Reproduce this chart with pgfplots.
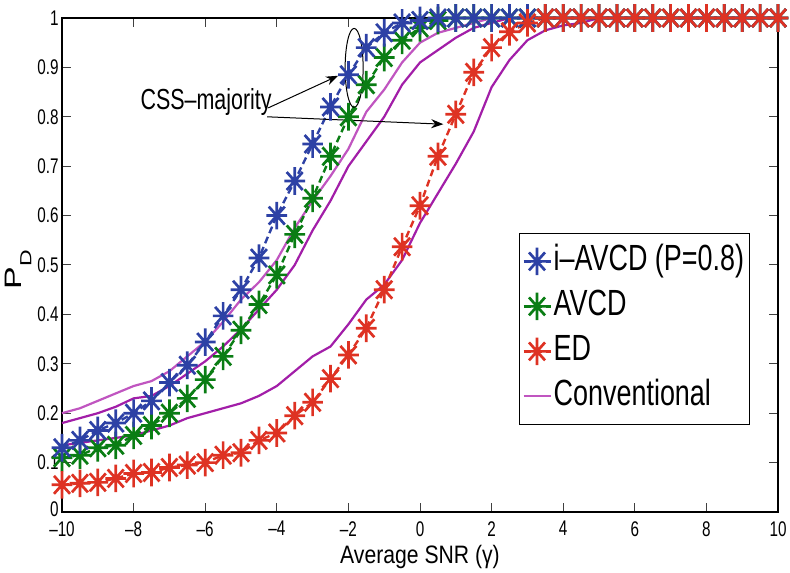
\documentclass[border=0pt]{standalone}
\usepackage{fontspec}
\setmainfont{Liberation Sans}
\newfontfamily\tickfont{Liberation Sans}[FakeStretch=0.72]
\newfontfamily\legfont{Liberation Sans}[FakeStretch=0.74]
\newfontfamily\labfont{Liberation Sans}[FakeStretch=0.84]
\usepackage{graphicx}
\usepackage{pgfplots}
\pgfplotsset{compat=1.18}
\usetikzlibrary{arrows.meta}

\definecolor{cblue}{RGB}{45,65,165}
\definecolor{cgreen}{RGB}{10,125,20}
\definecolor{cred}{RGB}{222,50,35}
\definecolor{cmagl}{RGB}{192,85,192}
\definecolor{cmagd}{RGB}{162,30,168}

% matlab style '*' marker
\pgfdeclareplotmark{mstar}{%
  \pgfpathmoveto{\pgfqpoint{0pt}{\pgfplotmarksize}}%
  \pgfpathlineto{\pgfqpoint{0pt}{-\pgfplotmarksize}}%
  \pgfpathmoveto{\pgfqpoint{0.75\pgfplotmarksize}{0pt}}%
  \pgfpathlineto{\pgfqpoint{-0.75\pgfplotmarksize}{0pt}}%
  \pgfpathmoveto{\pgfqpoint{0.58\pgfplotmarksize}{0.65\pgfplotmarksize}}%
  \pgfpathlineto{\pgfqpoint{-0.58\pgfplotmarksize}{-0.65\pgfplotmarksize}}%
  \pgfpathmoveto{\pgfqpoint{-0.58\pgfplotmarksize}{0.65\pgfplotmarksize}}%
  \pgfpathlineto{\pgfqpoint{0.58\pgfplotmarksize}{-0.65\pgfplotmarksize}}%
  \pgfusepathqstroke}

\pgfplotsset{
  mk/.style={mark=mstar, mark size=6.9pt, mark options={solid, line width=1.35pt}},
  dl/.style={line width=1.2pt, dash pattern=on 3.5pt off 2pt},
}

\begin{document}
\begin{tikzpicture}
\begin{axis}[
    scale only axis,
    width=358pt, height=247pt,
    xmin=-10, xmax=10, ymin=0, ymax=1,
    xtick={-10,-8,-6,-4,-2,0,2,4,6,8,10},
    xticklabels={\textendash10,\textendash8,\textendash6,\textendash4,\textendash2,0,2,4,6,8,10},
    ytick={0,0.1,0.2,0.3,0.4,0.5,0.6,0.7,0.8,0.9,1},
    yticklabels={\raisebox{2.5pt}{0},0.1,0.2,0.3,0.4,0.5,0.6,0.7,0.8,0.9,1},
    tick align=inside,
    major tick length=4.5pt,
    tick style={line width=0.5pt, black!75},
    axis line style={line width=0.9pt},
    ticklabel style={font=\fontsize{10.6}{11}\tickfont},
    yticklabel style={xshift=1.8pt, inner ysep=0pt},
    xticklabel style={yshift=-4.5pt, inner ysep=0pt},
    xlabel={Average SNR (γ)},
    xlabel style={font=\fontsize{12.6}{13}\labfont, at={(axis description cs:0.5,0)}, anchor=base, yshift=-25.5pt, inner ysep=1pt},
    ylabel={\scalebox{1}[0.7]{\fontsize{17}{18}\selectfont P\raisebox{-7pt}{\fontsize{11.5}{12}\selectfont D}}},
    ylabel style={at={(axis description cs:-0.061,0.49)}, anchor=center},
    clip=false,
    legend cell align=left,
    legend style={at={(0.638,0.565)}, anchor=north west, draw=black, line width=0.5pt,
        font=\fontsize{18.2}{20}\legfont, inner xsep=1.5pt, inner ysep=4.5pt, row sep=3.5pt,
        nodes={text height=13pt, text depth=4pt, inner ysep=1pt, inner xsep=1pt}},
    legend image code/.code={\draw[mark repeat=2, mark phase=2, #1]
        plot coordinates {(0pt,0pt) (6.75pt,0pt) (13.5pt,0pt)};},
]
\addlegendimage{cblue, dl, mk}
\addlegendentry{i–AVCD (P=0.8)}
\addlegendimage{cgreen, dl, mk}
\addlegendentry{AVCD}
\addlegendimage{cred, dl, mk}
\addlegendentry{ED}
\addlegendimage{cmagl, line width=1.1pt}
\addlegendentry{Conventional}

% conventional (upper)
\addplot[cmagl, line width=1.1pt, forget plot] coordinates {
(-10,0.20) (-9.5,0.21) (-9,0.225) (-8.5,0.24) (-8,0.255) (-7.5,0.265) (-7,0.285)
(-6.5,0.315) (-6,0.345) (-5.5,0.385) (-5,0.43) (-4.5,0.465) (-4,0.51) (-3.5,0.575)
(-3,0.63) (-2.5,0.68) (-2,0.735) (-1.5,0.81) (-1,0.855) (-0.5,0.91) (0,0.95)
(0.5,0.97) (1,0.98) (1.5,0.99) (2,1) (2.5,1) (3,1) (3.5,1) (4,1) (4.5,1) (5,1)
(5.5,1) (6,1) (6.5,1) (7,1) (7.5,1) (8,1) (8.5,1) (9,1) (9.5,1) (10,1)
};
% conventional (middle)
\addplot[cmagd, line width=1.1pt, forget plot] coordinates {
(-10,0.18) (-9.5,0.19) (-9,0.20) (-8.5,0.213) (-8,0.23) (-7.5,0.235) (-7,0.255)
(-6.5,0.28) (-6,0.305) (-5.5,0.335) (-5,0.37) (-4.5,0.41) (-4,0.45) (-3.5,0.50)
(-3,0.57) (-2.5,0.63) (-2,0.70) (-1.5,0.75) (-1,0.80) (-0.5,0.865) (0,0.91)
(0.5,0.935) (1,0.96) (1.5,0.98) (2,0.99) (2.5,1) (3,1) (3.5,1) (4,1) (4.5,1) (5,1)
(5.5,1) (6,1) (6.5,1) (7,1) (7.5,1) (8,1) (8.5,1) (9,1) (9.5,1) (10,1)
};
% conventional (lower)
\addplot[cmagd, line width=1.1pt, forget plot] coordinates {
(-10,0.135) (-9.5,0.14) (-9,0.145) (-8.5,0.15) (-8,0.155) (-7.5,0.165) (-7,0.175)
(-6.5,0.19) (-6,0.20) (-5.5,0.21) (-5,0.22) (-4.5,0.235) (-4,0.255) (-3.5,0.285)
(-3,0.315) (-2.5,0.335) (-2,0.38) (-1.5,0.43) (-1,0.46) (-0.5,0.51) (0,0.585)
(0.5,0.645) (1,0.705) (1.5,0.77) (2,0.86) (2.5,0.915) (3,0.955) (3.5,0.975) (4,0.985)
(4.5,0.99) (5,1) (5.5,1) (6,1) (6.5,1) (7,1) (7.5,1) (8,1) (8.5,1) (9,1) (9.5,1) (10,1)
};
% AVCD
\addplot[cgreen, dl, mk, forget plot] coordinates {
(-10,0.11) (-9.5,0.115) (-9,0.13) (-8.5,0.135) (-8,0.155) (-7.5,0.175) (-7,0.20)
(-6.5,0.23) (-6,0.268) (-5.5,0.315) (-5,0.368) (-4.5,0.42) (-4,0.48) (-3.5,0.562)
(-3,0.635) (-2.5,0.72) (-2,0.80) (-1.5,0.865) (-1,0.92) (-0.5,0.955) (0,0.98)
(0.5,0.995) (1,1) (1.5,1) (2,1) (2.5,1) (3,1) (3.5,1) (4,1) (4.5,1) (5,1)
(5.5,1) (6,1) (6.5,1) (7,1) (7.5,1) (8,1) (8.5,1) (9,1) (9.5,1) (10,1)
};
% i-AVCD
\addplot[cblue, dl, mk, forget plot] coordinates {
(-10,0.13) (-9.5,0.145) (-9,0.165) (-8.5,0.18) (-8,0.20) (-7.5,0.225) (-7,0.262)
(-6.5,0.297) (-6,0.344) (-5.5,0.397) (-5,0.45) (-4.5,0.514) (-4,0.60) (-3.5,0.67)
(-3,0.745) (-2.5,0.82) (-2,0.885) (-1.5,0.94) (-1,0.97) (-0.5,0.99) (0,0.995)
(0.5,1) (1,1) (1.5,1) (2,1) (2.5,1) (3,1) (3.5,1) (4,1) (4.5,1) (5,1)
(5.5,1) (6,1) (6.5,1) (7,1) (7.5,1) (8,1) (8.5,1) (9,1) (9.5,1) (10,1)
};
% ED
\addplot[cred, dl, mk, forget plot] coordinates {
(-10,0.055) (-9.5,0.058) (-9,0.06) (-8.5,0.068) (-8,0.078) (-7.5,0.08) (-7,0.09)
(-6.5,0.095) (-6,0.10) (-5.5,0.115) (-5,0.12) (-4.5,0.145) (-4,0.16) (-3.5,0.195)
(-3,0.222) (-2.5,0.27) (-2,0.318) (-1.5,0.372) (-1,0.45) (-0.5,0.537) (0,0.62)
(0.5,0.72) (1,0.805) (1.5,0.89) (2,0.94) (2.5,0.972) (3,0.99) (3.5,1) (4,1) (4.5,1) (5,1)
(5.5,1) (6,1) (6.5,1) (7,1) (7.5,1) (8,1) (8.5,1) (9,1) (9.5,1) (10,1)
};

% annotation
\node[anchor=base, font=\fontsize{14.5}{16}\legfont, inner sep=0pt] at (axis cs:-5.975,0.814) {CSS–majority};
\draw[line width=0.5pt, -{Stealth[length=6pt, width=4.5pt]}] (axis cs:-4.24,0.818) -- (axis cs:-2.29,0.883);
\draw[line width=0.5pt, -{Stealth[length=6pt, width=4.5pt]}] (axis cs:-4.27,0.80) -- (axis cs:0.65,0.785);
\draw[line width=0.5pt] (axis cs:-1.84,0.899) ellipse [x radius=4.5pt, y radius=19.75pt];
\end{axis}
\pgfresetboundingbox
\path ([xshift=-31pt,yshift=-30pt]current axis.south west) rectangle ([xshift=6pt,yshift=9pt]current axis.north east);
\end{tikzpicture}
\end{document}
